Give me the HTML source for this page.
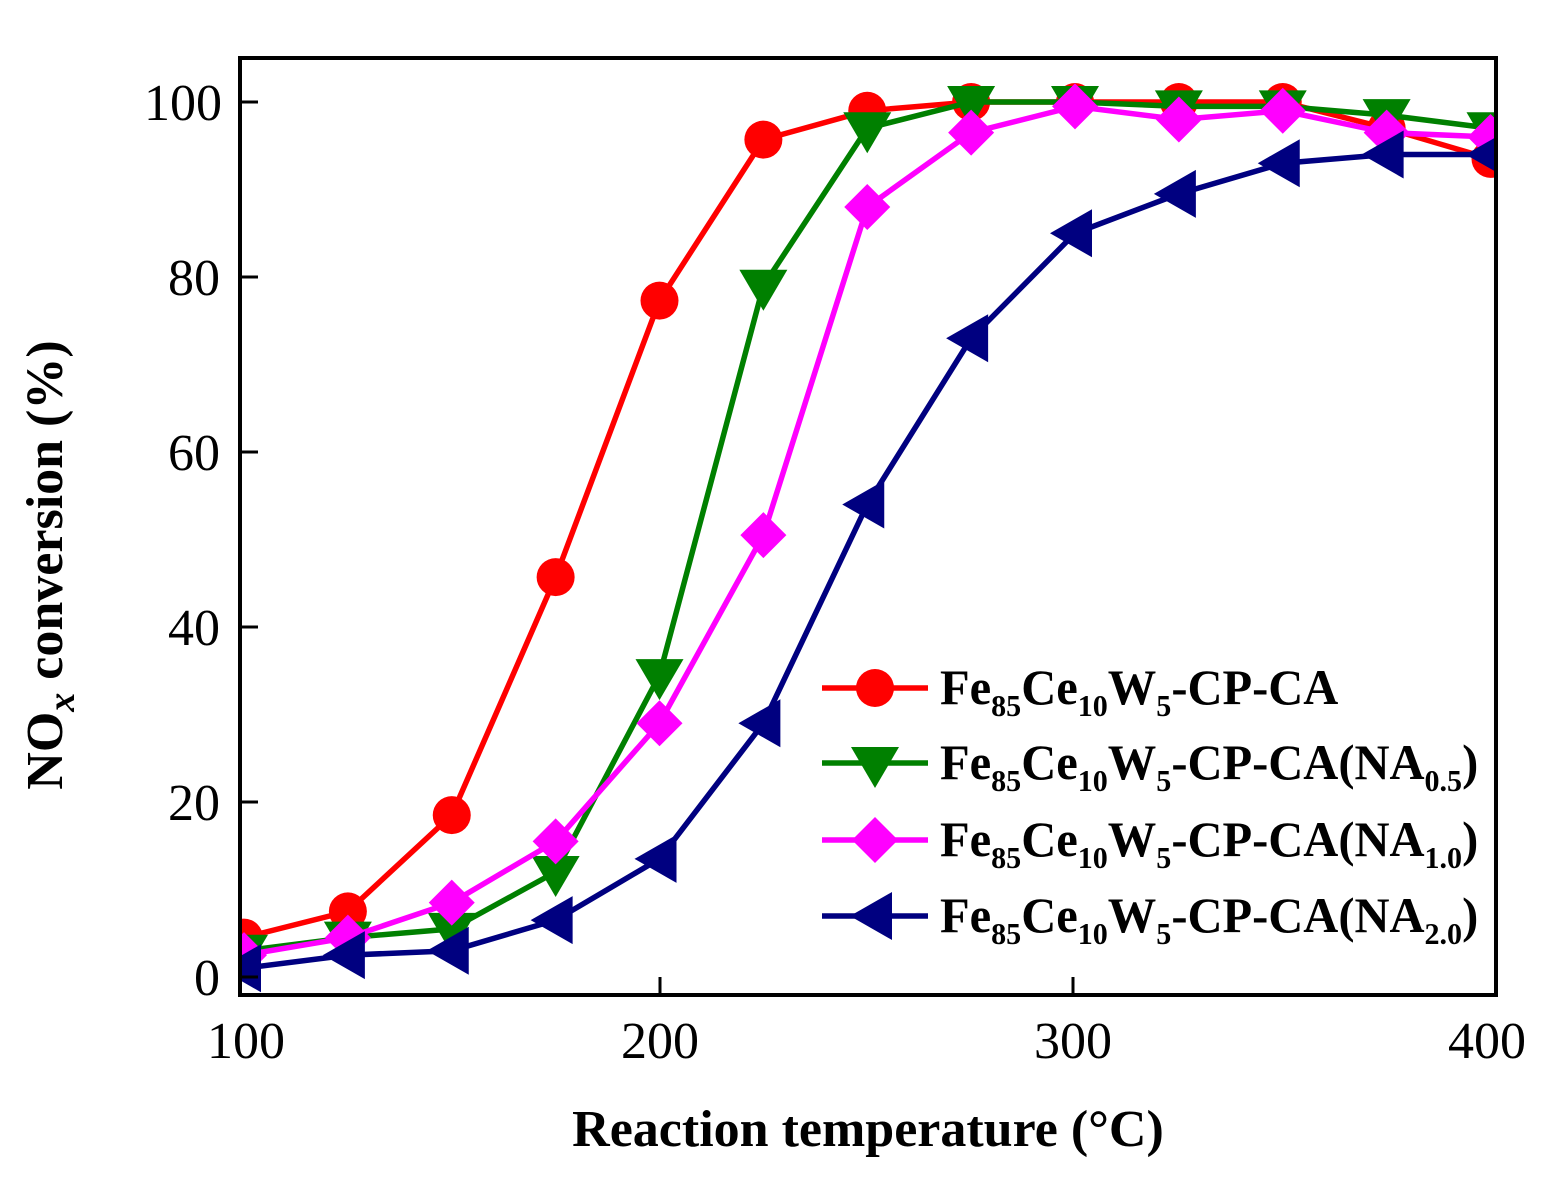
<!DOCTYPE html>
<html><head><meta charset="utf-8"><style>html,body{margin:0;padding:0;background:#fff}svg{display:block}text{font-family:"Liberation Serif",serif}</style></head>
<body>
<svg width="1552" height="1202" viewBox="0 0 1552 1202" xmlns="http://www.w3.org/2000/svg">
<defs><clipPath id="c"><rect x="240" y="58" width="1256" height="937"/></clipPath></defs>
<g id="plot" clip-path="url(#c)"></g>
<rect x="240" y="58" width="1256" height="937" fill="none" stroke="#000" stroke-width="4"/>
<g stroke="#000" stroke-width="3">
<line x1="240" y1="977" x2="258" y2="977"/><line x1="240" y1="802" x2="258" y2="802"/><line x1="240" y1="627" x2="258" y2="627"/><line x1="240" y1="452" x2="258" y2="452"/><line x1="240" y1="277" x2="258" y2="277"/><line x1="240" y1="102" x2="258" y2="102"/>
<line x1="660" y1="995" x2="660" y2="977"/><line x1="1073" y1="995" x2="1073" y2="977"/>
</g>
<g font-size="52" text-anchor="end">
<text x="220" y="995">0</text><text x="220" y="820">20</text><text x="220" y="645">40</text><text x="220" y="470">60</text><text x="220" y="295">80</text><text x="222" y="120">100</text>
</g>
<g font-size="52" text-anchor="middle">
<text x="246" y="1058">100</text><text x="660" y="1058">200</text><text x="1073" y="1058">300</text><text x="1487" y="1058">400</text>
</g>
<text x="868" y="1146" font-size="52" font-weight="bold" text-anchor="middle">Reaction temperature (°C)</text>
<text transform="translate(62,565) rotate(-90)" font-size="52" font-weight="bold" text-anchor="middle">NO<tspan font-style="italic" font-size="38" dy="12">x</tspan><tspan dy="-12"> conversion (%)</tspan></text>
<g id="legend"></g>
<g font-size="50" font-weight="bold">
<text transform="translate(940,704) scale(0.97,1)">Fe<tspan font-size="31" dy="12">85</tspan><tspan dy="-12">Ce</tspan><tspan font-size="31" dy="12">10</tspan><tspan dy="-12">W</tspan><tspan font-size="31" dy="12">5</tspan><tspan dy="-12">-CP-CA</tspan></text>
<text transform="translate(940,779) scale(0.97,1)">Fe<tspan font-size="31" dy="12">85</tspan><tspan dy="-12">Ce</tspan><tspan font-size="31" dy="12">10</tspan><tspan dy="-12">W</tspan><tspan font-size="31" dy="12">5</tspan><tspan dy="-12">-CP-CA(NA</tspan><tspan font-size="31" dy="12">0.5</tspan><tspan dy="-12">)</tspan></text>
<text transform="translate(940,856) scale(0.97,1)">Fe<tspan font-size="31" dy="12">85</tspan><tspan dy="-12">Ce</tspan><tspan font-size="31" dy="12">10</tspan><tspan dy="-12">W</tspan><tspan font-size="31" dy="12">5</tspan><tspan dy="-12">-CP-CA(NA</tspan><tspan font-size="31" dy="12">1.0</tspan><tspan dy="-12">)</tspan></text>
<text transform="translate(940,932) scale(0.97,1)">Fe<tspan font-size="31" dy="12">85</tspan><tspan dy="-12">Ce</tspan><tspan font-size="31" dy="12">10</tspan><tspan dy="-12">W</tspan><tspan font-size="31" dy="12">5</tspan><tspan dy="-12">-CP-CA(NA</tspan><tspan font-size="31" dy="12">2.0</tspan><tspan dy="-12">)</tspan></text>
</g>
<script>
const X=t=>244+(t-100)*4.155, Y=v=>977-v*8.75;
const T=[100,125,150,175,200,225,250,275,300,325,350,375,400];
const S=[
 ["#ff0000","c",[4.5,7.5,18.5,45.7,77.3,95.7,99,100,100,100,100,97,93.5]],
 ["#008000","v",[3,4.5,5.5,12,34.5,79,97,100,100,99.5,99.5,98.5,97]],
 ["#ff00ff","d",[2.5,4.5,8.5,15.5,29,50.5,88,96.5,99.5,98,99,96.5,96]],
 ["#000080","l",[1,2.5,3,6.5,13.5,29,54,73,85,89.5,93,94,94]]];
const ns="http://www.w3.org/2000/svg";
function mk(g,c,k,x,y){let e;
 if(k=="c"){e=document.createElementNS(ns,"circle");e.setAttribute("cx",x);e.setAttribute("cy",y);e.setAttribute("r",19);}
 else{e=document.createElementNS(ns,"polygon");let p;
  if(k=="v")p=[[x-24,y-16],[x+24,y-16],[x,y+25]];
  else if(k=="d")p=[[x,y-23],[x+23,y],[x,y+23],[x-23,y]];
  else p=[[x-25,y],[x+17,y-24],[x+17,y+24]];
  e.setAttribute("points",p.map(a=>a.join(",")).join(" "));}
 e.setAttribute("fill",c);g.appendChild(e);}
const g=document.getElementById("plot");
S.forEach(([c,k,d])=>{let pl=document.createElementNS(ns,"polyline");
 pl.setAttribute("points",d.map((v,i)=>X(T[i])+","+Y(v)).join(" "));
 pl.setAttribute("fill","none");pl.setAttribute("stroke",c);pl.setAttribute("stroke-width",5.5);g.appendChild(pl);
 d.forEach((v,i)=>mk(g,c,k,X(T[i]),Y(v)));});
const L=document.getElementById("legend");
const ys=[688,763,840,916];
S.forEach(([c,k],i)=>{let y=ys[i];
 let ln=document.createElementNS(ns,"line");ln.setAttribute("x1",822);ln.setAttribute("x2",928);ln.setAttribute("y1",y);ln.setAttribute("y2",y);ln.setAttribute("stroke",c);ln.setAttribute("stroke-width",5.5);L.appendChild(ln);
 mk(L,c,k,875,y);});
</script>
</svg>
</body></html>
